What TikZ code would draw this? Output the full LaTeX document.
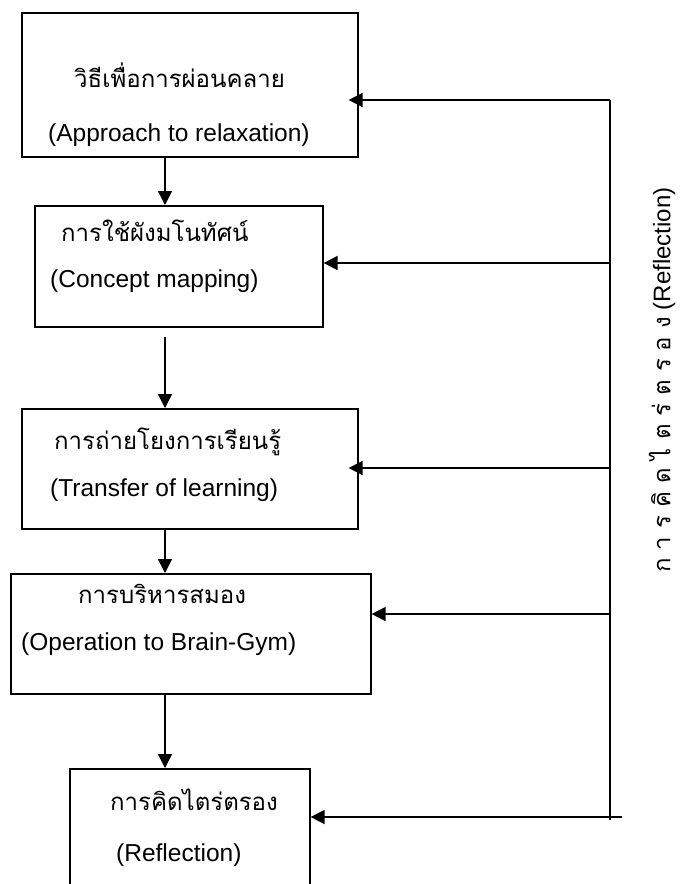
\documentclass[tikz,border=0pt]{standalone}
\usepackage{fontspec}
\setmainfont{Liberation Sans}
\newfontfamily\thaifont[Script=Thai]{Loma}
\usetikzlibrary{arrows.meta,calc}
\begin{document}
\begin{tikzpicture}[x=1pt,y=-1pt,
  box/.style={draw, line width=1.6pt, inner sep=0pt, anchor=north west},
  en/.style={anchor=base west, inner sep=0pt, font=\fontsize{24.5}{28}\selectfont},
  th/.style={anchor=base west, inner sep=0pt, font=\thaifont\fontsize{24}{28}\selectfont},
  conn/.style={line width=1.5pt},
  arr/.style={line width=1.5pt, -{Triangle[length=14pt,width=14pt]}}
]
\useasboundingbox (0,0) rectangle (680,884);
\clip (0,0) rectangle (680,884);
\fill[white] (0,0) rectangle (680,884);

% boxes
\node[box, minimum width=336pt, minimum height=144pt] (b1) at (21,12) {};
\node[box, minimum width=288pt, minimum height=121pt] (b2) at (34,205) {};
\node[box, minimum width=336pt, minimum height=120pt] (b3) at (21,408) {};
\node[box, minimum width=360pt, minimum height=120pt] (b4) at (10,573) {};
\node[box, minimum width=240pt, minimum height=140pt] (b5) at (69,768) {};

% texts
\node[th] (t1) at (74,87) {วิธีเพื่อการผ่อนคลาย};
\node[en] (e1) at (48,141) {(Approach to relaxation)};
\node[th] (t2) at (61,241) {การใช้ผังมโนทัศน์};
\node[en] (e2) at (50,287) {(Concept mapping)};
\node[th] (t3) at (54,449) {การถ่ายโยงการเรียนรู้};
\node[en] (e3) at (50,496) {(Transfer of learning)};
\node[th] (t4) at (78,603) {การบริหารสมอง};
\node[en] (e4) at (21,650) {(Operation to Brain-Gym)};
\node[th] (t5) at (110,810) {การคิดไตร่ตรอง};
\node[en] (e5) at (116,861) {(Reflection)};

% rotated label
\node[rotate=90, inner sep=0pt, font=\fontsize{24}{28}\selectfont] (lab) at (662,380)
  {{\thaifont ก\,\,า\,\,ร\,\,คิ\,\,ด\,\,ไ\,\,ต\,\,ร่\,\,ต\,\,ร\,\,อ\,\,ง} (Reflection)};

% vertical flow arrows
\coordinate (ax) at (165,0);
\draw[arr] (ax |- b1.south) -- (ax |- b2.north);
\draw[arr] ($(ax |- b2.south)+(0,9)$) -- (ax |- b3.north);
\draw[arr] (ax |- b3.south) -- (ax |- b4.north);
\draw[arr] (ax |- b4.south) -- (ax |- b5.north);

% feedback line
\coordinate (j1) at (610,100);
\coordinate (j2) at (610,263);
\coordinate (j3) at (610,468);
\coordinate (j4) at (610,614);
\coordinate (jb) at (610,820);
\coordinate (j5) at (622,817);
\draw[conn] (j1) -- (jb);
\draw[arr] (j1) -- ($(b1.east |- j1)+(-10,0)$);
\draw[arr] (j2) -- (b2.east |- j2);
\draw[arr] (j3) -- ($(b3.east |- j3)+(-10,0)$);
\draw[arr] (j4) -- (b4.east |- j4);
\draw[arr] (j5) -- (b5.east |- j5);
\end{tikzpicture}
\end{document}
